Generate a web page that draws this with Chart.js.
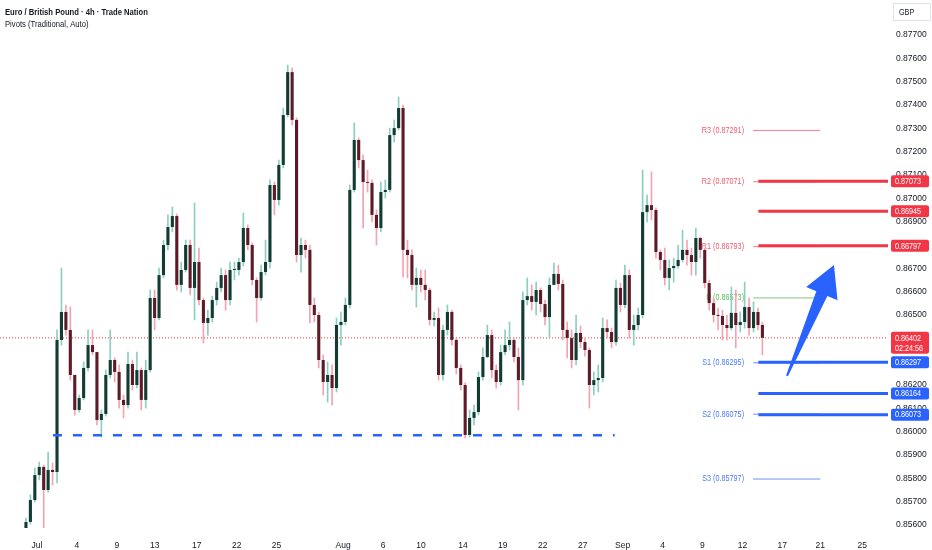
<!DOCTYPE html>
<html>
<head>
<meta charset="utf-8">
<title>EUR/GBP 4h</title>
<script src="https://cdn.jsdelivr.net/npm/chart.js@4.4.1/dist/chart.umd.min.js"></script>
<style>
  html, body { margin: 0; padding: 0; background: #fff; }
  #wrap { width: 932px; height: 550px; position: relative; }
</style>
</head>
<body>
<div id="wrap"><canvas id="chart"></canvas></div>
<script>
// EUR/GBP candles, roughly three per trading day
const FIRST_OPEN = 0.85587;
const closes = [
  0.85613, 0.85707, 0.85814, 0.85849, 0.85750, 0.85836, 0.85827, 0.86393, 0.86513, 0.86436,
  0.86243, 0.86093, 0.86144, 0.86273, 0.86371, 0.86341, 0.86050, 0.86076, 0.86243, 0.86307,
  0.86256, 0.86136, 0.86114, 0.86290, 0.86200, 0.86264, 0.86136, 0.86264, 0.86573, 0.86487,
  0.86671, 0.86800, 0.86877, 0.86924, 0.86629, 0.86693, 0.86800, 0.86616, 0.86727, 0.86564,
  0.86466, 0.86487, 0.86564, 0.86616, 0.86671, 0.86564, 0.86693, 0.86693, 0.86727, 0.86873,
  0.86800, 0.86650, 0.86573, 0.86684, 0.86727, 0.87057, 0.86993, 0.87143, 0.87357, 0.87541,
  0.87336, 0.86757, 0.86800, 0.86779, 0.86543, 0.86500, 0.86307, 0.86213, 0.86243, 0.86187,
  0.86457, 0.86470, 0.86543, 0.87036, 0.87250, 0.87164, 0.87070, 0.87066, 0.86929, 0.86873,
  0.87027, 0.87036, 0.87271, 0.87301, 0.87387, 0.86779, 0.86757, 0.86629, 0.86659, 0.86629,
  0.86607, 0.86479, 0.86487, 0.86243, 0.86436, 0.86513, 0.86393, 0.86273, 0.86200, 0.85986,
  0.86059, 0.86084, 0.86234, 0.86320, 0.86414, 0.86264, 0.86213, 0.86341, 0.86371, 0.86393,
  0.86320, 0.86221, 0.86564, 0.86581, 0.86556, 0.86607, 0.86547, 0.86491, 0.86629, 0.86676,
  0.86633, 0.86436, 0.86401, 0.86307, 0.86423, 0.86384, 0.86350, 0.86200, 0.86221, 0.86230,
  0.86444, 0.86427, 0.86384, 0.86616, 0.86543, 0.86671, 0.86436, 0.86457, 0.86500, 0.86941,
  0.86971, 0.86950, 0.86770, 0.86736, 0.86659, 0.86701, 0.86710, 0.86736, 0.86779, 0.86757,
  0.86727, 0.86830, 0.86779, 0.86637, 0.86551, 0.86500, 0.86496, 0.86457, 0.86444, 0.86509,
  0.86457, 0.86470, 0.86534, 0.86444, 0.86513, 0.86457, 0.86402
];
const highs = [
  0.85630, 0.85729, 0.85844, 0.85870, 0.85857, 0.85913, 0.85866, 0.86436, 0.86701, 0.86543,
  0.86534, 0.86243, 0.86157, 0.86299, 0.86436, 0.86436, 0.86341, 0.86093, 0.86264, 0.86436,
  0.86316, 0.86286, 0.86157, 0.86341, 0.86307, 0.86341, 0.86273, 0.86307, 0.86607, 0.86607,
  0.86701, 0.86821, 0.86929, 0.86963, 0.86933, 0.86727, 0.86821, 0.86821, 0.86980, 0.86787,
  0.86573, 0.86521, 0.86581, 0.86641, 0.86701, 0.86693, 0.86727, 0.86727, 0.86744, 0.86937,
  0.86886, 0.86809, 0.86659, 0.86714, 0.86821, 0.87079, 0.87070, 0.87164, 0.87387, 0.87571,
  0.87559, 0.87344, 0.86830, 0.86821, 0.86800, 0.86573, 0.86513, 0.86329, 0.86299, 0.86286,
  0.86487, 0.86513, 0.86573, 0.87057, 0.87323, 0.87259, 0.87186, 0.87121, 0.87079, 0.86950,
  0.87070, 0.87079, 0.87301, 0.87336, 0.87434, 0.87400, 0.86821, 0.86779, 0.86701, 0.86693,
  0.86693, 0.86616, 0.86513, 0.86530, 0.86457, 0.86543, 0.86521, 0.86401, 0.86286, 0.86209,
  0.86093, 0.86114, 0.86256, 0.86359, 0.86457, 0.86436, 0.86286, 0.86371, 0.86436, 0.86470,
  0.86401, 0.86359, 0.86599, 0.86659, 0.86629, 0.86641, 0.86616, 0.86564, 0.86659, 0.86723,
  0.86714, 0.86650, 0.86470, 0.86436, 0.86500, 0.86453, 0.86401, 0.86359, 0.86256, 0.86286,
  0.86487, 0.86479, 0.86444, 0.86650, 0.86637, 0.86714, 0.86693, 0.86500, 0.86530, 0.87121,
  0.87014, 0.87113, 0.86959, 0.86779, 0.86787, 0.86736, 0.86744, 0.86800, 0.86864, 0.86821,
  0.86787, 0.86873, 0.86834, 0.86787, 0.86650, 0.86573, 0.86530, 0.86521, 0.86500, 0.86620,
  0.86607, 0.86513, 0.86641, 0.86573, 0.86556, 0.86530, 0.86470
];
const lows = [
  0.85579, 0.85604, 0.85699, 0.85793, 0.85587, 0.85741, 0.85771, 0.85780, 0.86371, 0.86414,
  0.86221, 0.86071, 0.86084, 0.86136, 0.86260, 0.86329, 0.86029, 0.85977, 0.86067, 0.86230,
  0.86213, 0.86101, 0.86059, 0.86101, 0.86179, 0.86187, 0.86093, 0.86101, 0.86256, 0.86436,
  0.86479, 0.86659, 0.86779, 0.86856, 0.86607, 0.86599, 0.86684, 0.86586, 0.86479, 0.86543,
  0.86380, 0.86414, 0.86470, 0.86543, 0.86599, 0.86521, 0.86543, 0.86650, 0.86671, 0.86710,
  0.86779, 0.86629, 0.86470, 0.86564, 0.86671, 0.86701, 0.86929, 0.86971, 0.87130, 0.87349,
  0.87314, 0.86727, 0.86684, 0.86744, 0.86466, 0.86470, 0.86273, 0.86157, 0.86127, 0.86114,
  0.86170, 0.86371, 0.86457, 0.86530, 0.87027, 0.87130, 0.86873, 0.87027, 0.86899, 0.86800,
  0.86856, 0.87001, 0.87027, 0.87241, 0.87293, 0.86663, 0.86659, 0.86607, 0.86534, 0.86599,
  0.86564, 0.86457, 0.86453, 0.86221, 0.86221, 0.86414, 0.86371, 0.86247, 0.86179, 0.85973,
  0.85977, 0.86029, 0.86071, 0.86221, 0.86316, 0.86230, 0.86187, 0.86200, 0.86329, 0.86350,
  0.86299, 0.86093, 0.86200, 0.86543, 0.86521, 0.86500, 0.86513, 0.86457, 0.86401, 0.86629,
  0.86607, 0.86393, 0.86316, 0.86273, 0.86286, 0.86359, 0.86324, 0.86101, 0.86157, 0.86170,
  0.86213, 0.86401, 0.86359, 0.86371, 0.86513, 0.86530, 0.86401, 0.86371, 0.86436, 0.86487,
  0.86899, 0.86907, 0.86744, 0.86693, 0.86629, 0.86607, 0.86641, 0.86701, 0.86727, 0.86714,
  0.86671, 0.86671, 0.86744, 0.86616, 0.86521, 0.86470, 0.86436, 0.86393, 0.86393, 0.86436,
  0.86359, 0.86427, 0.86444, 0.86414, 0.86427, 0.86436, 0.86329
];

// time axis is counted in trading days, 0 = Tue 1 Jul
const FIRST_DAY = -0.83;
const BARS_PER_DAY = 3;
const tickDays   = [0, 3, 6, 8.85, 12, 15, 18, 23, 26, 28.85, 32, 35, 38, 41, 44, 47, 50, 53, 56, 58.85, 62];
const tickLabels = ["Jul", "4", "9", "13", "17", "22", "25", "Aug", "6", "10", "14", "19", "22", "27", "Sep", "4", "9", "12", "17", "21", "25"];
const priceTicks = [0.877, 0.876, 0.875, 0.874, 0.873, 0.872, 0.871, 0.870, 0.869, 0.868, 0.867,
                    0.866, 0.865, 0.864, 0.863, 0.862, 0.861, 0.860, 0.859, 0.858, 0.857, 0.856];

// pivots (traditional) and the hand drawn levels
const pivotNames  = ["R3", "R2", "R1", "P", "S1", "S2", "S3"];
const pivotValues = [0.87291, 0.87071, 0.86793, 0.86573, 0.86295, 0.86075, 0.85797];
const rayLevels   = [0.87073, 0.86945, 0.86797, 0.86297, 0.86164, 0.86073];
const LAST_PRICE = 0.86402;
const COUNTDOWN = "02:24:56";
const SUPPORT = 0.85985;
const arrowFrom = { x: 56.35, y: 0.86239 };
const arrowTo   = { x: 59.88, y: 0.86714 };

// view window / extents
const X_MIN = -2.78, X_MAX = 63.94;
const Y_MIN = 0.855871, Y_MAX = 0.8785;
const PIVOT_FROM = 53.8, PIVOT_TO = 58.85;
const RAY_FROM = 54.2;
const SUPPORT_FROM = 1.2, SUPPORT_TO = 43.4;

const FONT = '"Liberation Sans", Arial, sans-serif';
const SQUEEZE = 0.85;   // the platform font is narrower than anything installed
const RED = "#f23645";
const BLUE = "#2962ff";
const TEXT = "#131722";

const xs = closes.map((_, i) => FIRST_DAY + i / BARS_PER_DAY);
const opens = [FIRST_OPEN].concat(closes.slice(0, -1));
const isUp = closes.map((c, i) => c >= opens[i]);

const wickData = xs.map((x, i) => ({ x: x, y: [lows[i], highs[i]] }));
const bodyData = xs.map((x, i) => ({ x: x, y: [opens[i], closes[i]] }));

function pivotColor(name) {
  if (name[0] === "R") return "#f77c8c";
  if (name[0] === "S") return "#6f92f5";
  return "#81c784";
}
function pivotTextColor(name) {
  if (name[0] === "R") return "#f05a70";
  if (name[0] === "S") return "#4f7bf0";
  return "#5cb860";
}

function levelLine(from, to, value, color, width, dash, order) {
  return {
    type: "line",
    data: [{ x: from, y: value }, { x: to, y: value }],
    borderColor: color,
    borderWidth: width,
    borderDash: dash || [],
    pointRadius: 0,
    fill: false,
    order: order
  };
}

const datasets = [
  levelLine(X_MIN, X_MAX, LAST_PRICE, RED, 1, [1, 2], 6),
  {
    type: "bar",
    label: "wicks",
    data: wickData,
    backgroundColor: isUp.map(u => u ? "#8ccfc0" : "#f4a3b2"),
    barThickness: 1,
    grouped: false,
    order: 5
  },
  {
    type: "bar",
    label: "bodies",
    data: bodyData,
    backgroundColor: isUp.map(u => u ? "#123c31" : "#5e1b27"),
    barPercentage: 0.7,
    categoryPercentage: 1,
    minBarLength: 1,
    grouped: false,
    order: 4
  },
  levelLine(SUPPORT_FROM, SUPPORT_TO, SUPPORT, BLUE, 2.5, [9, 11], 1)
];

pivotNames.forEach((name, i) => {
  datasets.push(levelLine(PIVOT_FROM, PIVOT_TO, pivotValues[i], pivotColor(name), 1, null, 3));
});
rayLevels.forEach(v => {
  datasets.push(levelLine(RAY_FROM, X_MAX, v, v > LAST_PRICE ? RED : BLUE, 3, null, 2));
});

function narrowText(ctx, text, x, y, align) {
  ctx.save();
  ctx.translate(x, y);
  ctx.scale(SQUEEZE, 1);
  ctx.textAlign = align || "left";
  ctx.fillText(text, 0, 0);
  ctx.restore();
}

// pivot names sit under the candles, like on the platform
const pivotLabels = {
  id: "pivotLabels",
  beforeDatasetsDraw(chart) {
    const { ctx, scales: { x, y } } = chart;
    ctx.save();
    ctx.font = "8.5px " + FONT;
    ctx.textBaseline = "middle";
    pivotNames.forEach((name, i) => {
      ctx.fillStyle = pivotTextColor(name);
      narrowText(ctx, name + " (" + pivotValues[i].toFixed(5) + ")",
        x.getPixelForValue(PIVOT_FROM) - 9, y.getPixelForValue(pivotValues[i]), "right");
    });
    ctx.restore();
  }
};

function badge(ctx, yPix, lines, color, left) {
  const h = lines.length === 1 ? 12 : 22;
  const top = lines.length === 1 ? yPix - h / 2 : yPix - 6;
  ctx.fillStyle = color;
  ctx.beginPath();
  ctx.roundRect(left, top, 38, h, 2);
  ctx.fill();
  ctx.fillStyle = "#fff";
  ctx.textBaseline = "middle";
  lines.forEach((t, i) => narrowText(ctx, t, left + 4, yPix + 0.5 + i * 10));
}

const overlay = {
  id: "overlay",
  afterDatasetsDraw(chart) {
    const { ctx, scales: { x, y } } = chart;
    // the blue arrow
    const t = { x: x.getPixelForValue(arrowFrom.x), y: y.getPixelForValue(arrowFrom.y) };
    const p = { x: x.getPixelForValue(arrowTo.x), y: y.getPixelForValue(arrowTo.y) };
    const len = Math.hypot(p.x - t.x, p.y - t.y);
    const ux = (p.x - t.x) / len, uy = (p.y - t.y) / len;
    const nx = -uy, ny = ux;
    const bx = p.x - ux * 31, by = p.y - uy * 31;
    ctx.save();
    ctx.fillStyle = BLUE;
    ctx.beginPath();
    ctx.moveTo(t.x + nx * 1, t.y + ny * 1);
    ctx.lineTo(bx + nx * 6, by + ny * 6);
    ctx.lineTo(bx + nx * 17, by + ny * 17);
    ctx.lineTo(p.x, p.y);
    ctx.lineTo(bx - nx * 17, by - ny * 17);
    ctx.lineTo(bx - nx * 6, by - ny * 6);
    ctx.lineTo(t.x - nx * 1, t.y - ny * 1);
    ctx.closePath();
    ctx.fill();
    ctx.restore();
  },
  afterDraw(chart) {
    const { ctx, chartArea, scales: { y } } = chart;
    const left = chartArea.right + 3;
    ctx.save();
    ctx.font = "8.5px " + FONT;
    rayLevels.forEach(v => {
      badge(ctx, y.getPixelForValue(v), [v.toFixed(5)], v > LAST_PRICE ? RED : BLUE, left);
    });
    badge(ctx, y.getPixelForValue(LAST_PRICE), [LAST_PRICE.toFixed(5), COUNTDOWN], RED, left);

    // currency box
    ctx.strokeStyle = "#e0e3eb";
    ctx.lineWidth = 1;
    ctx.strokeRect(chartArea.right + 5.5, 3.5, 37, 17);
    ctx.fillStyle = TEXT;
    ctx.textBaseline = "middle";
    narrowText(ctx, "GBP", chartArea.right + 11, 12.5);

    // legend text top left
    ctx.textBaseline = "alphabetic";
    ctx.font = "bold 9px " + FONT;
    narrowText(ctx, "Euro / British Pound · 4h · Trade Nation", 5, 15);
    ctx.font = "9px " + FONT;
    narrowText(ctx, "Pivots (Traditional, Auto)", 5, 27);
    ctx.restore();
  }
};

new Chart(document.getElementById("chart"), {
  type: "bar",
  data: { datasets: datasets },
  options: {
    responsive: true,
    maintainAspectRatio: false,
    animation: false,
    layout: { padding: 0 },
    plugins: { legend: { display: false }, tooltip: { enabled: false } },
    scales: {
      x: {
        type: "linear",
        min: X_MIN,
        max: X_MAX,
        offset: false,
        grid: { display: false },
        border: { display: false },
        afterBuildTicks: s => { s.ticks = tickDays.map(v => ({ value: v })); },
        afterFit: s => { s.height = 22; s.paddingLeft = 0; s.paddingRight = 0; },
        ticks: {
          autoSkip: false,
          maxRotation: 0,
          padding: 5,
          color: TEXT,
          font: { family: FONT, size: 8.5 },
          callback: (v, i) => tickLabels[i]
        }
      },
      y: {
        position: "right",
        min: Y_MIN,
        max: Y_MAX,
        beginAtZero: false,
        grid: { display: false, drawTicks: false },
        border: { display: false },
        afterBuildTicks: s => { s.ticks = priceTicks.map(v => ({ value: v })); },
        afterFit: s => { s.width = 44; s.paddingTop = 0; s.paddingBottom = 0; },
        ticks: {
          padding: 8,
          color: TEXT,
          font: { family: FONT, size: 8.5 },
          callback: v => v.toFixed(5)
        }
      }
    }
  },
  plugins: [pivotLabels, overlay]
});
</script>
</body>
</html>
